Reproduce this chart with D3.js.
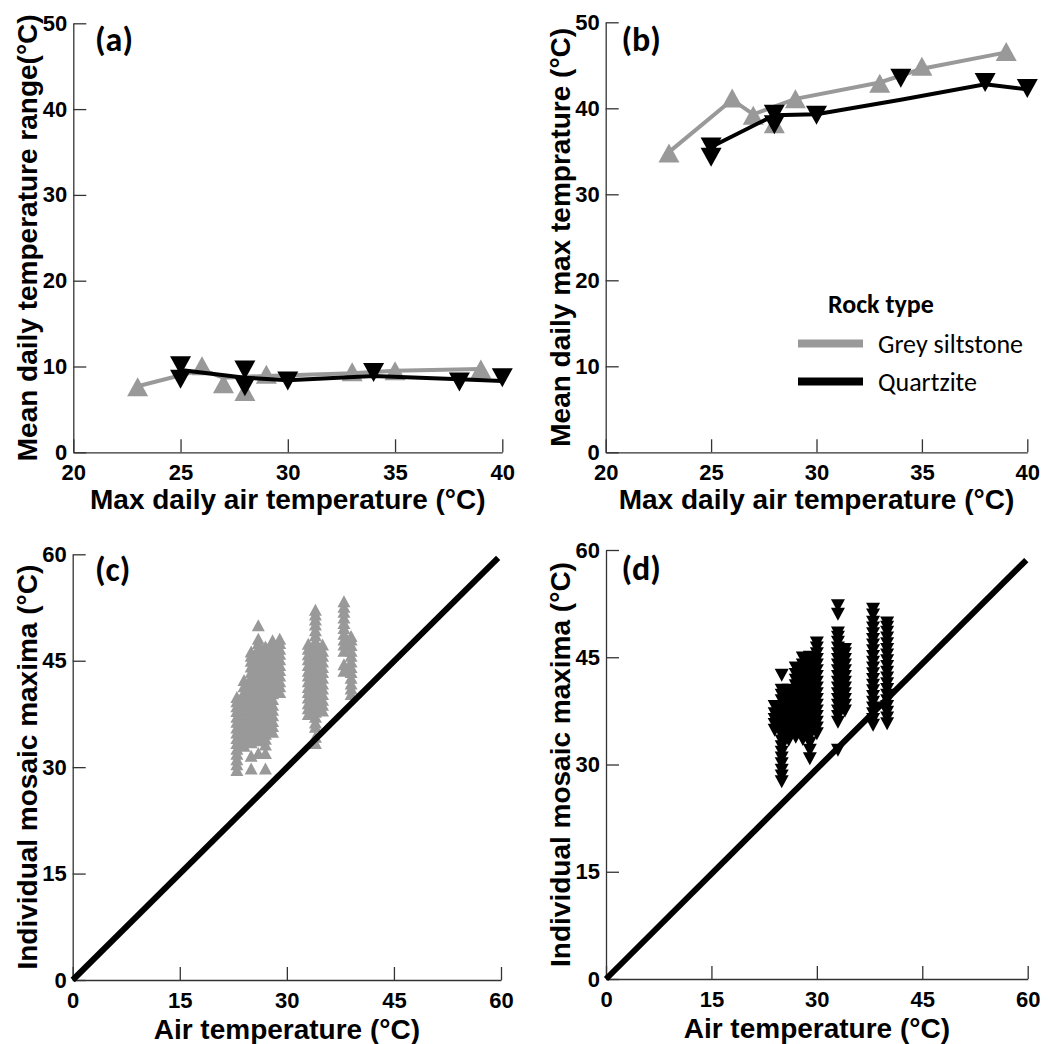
<!DOCTYPE html>
<html><head><meta charset="utf-8">
<script src="https://cdn.jsdelivr.net/npm/d3@7"></script>
<style>body{margin:0;background:#fff} svg{display:block}</style>
</head><body>
<svg id="chart" width="1051" height="1044"></svg>
<script>
// ---------------- DATA ----------------
// Panel (a): mean daily temperature range vs max daily air temperature
const greyRangeX = [23, 26, 27, 28, 29, 33, 35, 39];
const greyRangeY = [7.65, 10.1, 8.0, 7.1, 9.1, 9.4, 9.5, 9.7];
const greyRangeLineX = [23, 26, 27, 29, 33, 35, 39];
const greyRangeLineY = [7.7, 9.6, 8.7, 8.9, 9.2, 9.5, 9.7];
const quartzRangeX = [25, 25, 28, 28, 30, 34, 38, 40];
const quartzRangeY = [10.1, 8.5, 9.6, 7.65, 8.3, 9.3, 8.2, 8.7];
const quartzRangeLineX = [25, 28, 30, 34, 38, 40];
const quartzRangeLineY = [9.6, 8.7, 8.4, 8.9, 8.5, 8.3];

// Panel (b): mean daily max temperature vs max daily air temperature
const greyMaxX = [23, 26, 27, 28, 29, 33, 35, 39];
const greyMaxY = [34.8, 41.2, 39.2, 38.2, 41.1, 42.9, 44.9, 46.6];
const greyMaxLineX = [23, 26, 27, 29, 33, 35, 39];
const greyMaxLineY = [34.9, 41.0, 39.3, 41.1, 43.0, 44.6, 46.5];
const quartzMaxX = [25, 25, 28, 28, 30, 34, 38, 40];
const quartzMaxY = [35.5, 34.3, 39.3, 38.1, 39.2, 43.5, 43.0, 42.3];
const quartzMaxLineX = [25, 28, 30, 34, 38, 40];
const quartzMaxLineY = [35.5, 39.2, 39.3, 41.0, 42.8, 42.2];

// Panel (c): individual mosaic maxima, grey siltstone (per air temperature)
const mosaicGreyX = [23, 24, 25, 26, 27, 28, 29, 33, 34, 35, 38, 39];
const mosaicGreyY = [
  [29.6, 30.4, 31.1, 31.9, 32.6, 33.4, 34.1, 34.9, 35.6, 36.4, 37.1, 37.9, 38.6, 39.3, 39.9],
  [33.0, 33.8, 34.5, 35.3, 36.0, 36.8, 37.6, 38.3, 39.1, 39.8, 40.6, 41.4, 42.3],
  [29.8, 31.6, 33.5, 34.2, 35.0, 35.8, 36.5, 37.3, 38.1, 38.8, 39.6, 40.4, 41.1, 41.9, 42.7, 43.4, 44.2, 45.0, 45.7, 46.3],
  [32.0, 33.8, 34.6, 35.3, 36.1, 36.9, 37.6, 38.4, 39.2, 39.9, 40.7, 41.5, 42.2, 43.0, 43.8, 44.5, 45.3, 46.1, 46.8, 47.5, 48.1, 50.0],
  [29.8, 32.0, 33.2, 34.0, 34.7, 35.5, 36.3, 37.0, 37.8, 38.6, 39.3, 40.1, 40.9, 41.6, 42.4, 43.2, 43.9, 44.7, 45.5, 46.2, 47.0],
  [35.0, 35.8, 36.5, 37.3, 38.1, 38.8, 39.6, 40.4, 41.1, 41.9, 42.7, 43.4, 44.2, 45.0, 45.7, 46.5, 47.2, 47.9],
  [40.6, 41.4, 42.1, 42.9, 43.7, 44.4, 45.2, 46.0, 46.7, 47.5, 48.1],
  [37.5, 38.3, 39.0, 39.8, 40.6, 41.3, 42.1, 42.9, 43.6, 44.4, 45.2, 45.9, 46.7, 47.4],
  [33.4, 34.3, 35.7, 36.3, 37.1, 37.8, 38.6, 39.4, 40.1, 40.9, 41.7, 42.4, 43.2, 44.0, 44.7, 45.5, 46.3, 47.0, 47.8, 48.6, 49.3, 50.1, 50.8, 51.5, 52.2],
  [38.0, 38.8, 39.5, 40.3, 41.1, 41.8, 42.6, 43.4, 44.1, 44.9, 45.7, 46.4, 47.3],
  [43.6, 44.5, 46.4, 47.3, 48.0, 48.8, 49.6, 50.3, 51.1, 51.9, 52.6, 53.4],
  [40.3, 41.1, 41.8, 42.6, 43.4, 44.1, 44.9, 45.7, 46.4, 47.2, 48.0, 48.5]
];

// Panel (d): individual mosaic maxima, quartzite (per air temperature)
const mosaicQuartzX = [24, 25, 26, 27, 28, 29, 30, 33, 34, 38, 40];
const mosaicQuartzY = [
  [34.8, 35.6, 36.3, 37.1, 38.1],
  [27.6, 28.4, 29.2, 30.1, 30.9, 31.7, 32.5, 33.3, 34.1, 34.9, 35.7, 36.5, 37.3, 38.1, 38.9, 39.7, 40.4, 42.5],
  [33.4, 34.2, 35.0, 35.8, 36.6, 37.4, 38.2, 39.0, 39.8, 40.4],
  [33.8, 34.6, 35.4, 36.2, 37.0, 37.8, 38.6, 39.4, 40.2, 41.0, 41.8, 42.6, 43.5],
  [33.5, 34.3, 35.1, 35.9, 36.7, 37.5, 38.3, 39.1, 39.9, 40.7, 41.5, 42.3, 43.1, 43.9, 44.9],
  [30.8, 32.0, 33.0, 34.0, 34.8, 35.6, 36.4, 37.2, 38.0, 38.8, 39.6, 40.4, 41.2, 42.0, 42.8, 43.6, 44.4, 45.0],
  [34.3, 35.1, 35.9, 36.7, 37.5, 38.3, 39.1, 39.9, 40.7, 41.5, 42.3, 43.1, 43.9, 44.7, 45.5, 46.3, 47.0],
  [32.0, 35.9, 36.7, 37.5, 38.3, 39.1, 39.9, 40.7, 41.5, 42.3, 43.1, 43.9, 44.7, 45.5, 46.3, 47.1, 47.8, 48.4, 51.0, 52.2],
  [37.5, 38.3, 39.1, 39.9, 40.7, 41.5, 42.3, 43.1, 43.9, 44.7, 45.5, 46.1],
  [35.5, 36.3, 37.1, 37.9, 38.7, 39.5, 40.3, 41.1, 41.9, 42.7, 43.5, 44.3, 45.1, 45.9, 46.7, 47.5, 48.3, 49.1, 49.9, 50.9, 51.7],
  [35.7, 36.5, 37.3, 38.1, 38.9, 39.7, 40.5, 41.3, 42.1, 42.9, 43.7, 44.5, 45.3, 46.1, 46.9, 47.7, 48.5, 49.2, 49.8]
];

// 1:1 reference lines
const oneToOneC = [[0, 0], [59.6, 59.5]];
const oneToOneD = [[0, 0], [59.8, 58.6]];

// Ticks and labels
const ticksTopX = [20, 25, 30, 35, 40];
const ticksTopY = [0, 10, 20, 30, 40, 50];
const ticksBottom = [0, 15, 30, 45, 60];
const legendTitle = "Rock type";
const seriesNames = ["Grey siltstone", "Quartzite"];
const seriesColors = ["#999999", "#000000"];

// ---------------- DRAWING ----------------
const svg = d3.select("#chart");
const AX_FONT = "'Liberation Sans', Arial, sans-serif";
const LBL_FONT = "Carlito, Calibri, Lato, sans-serif";

function tri(cx, cy, w, h, up) {
  const hw = w / 2, hh = h / 2;
  return up
    ? `M${cx},${cy - hh}L${cx + hw},${cy + hh}L${cx - hw},${cy + hh}Z`
    : `M${cx},${cy + hh}L${cx + hw},${cy - hh}L${cx - hw},${cy - hh}Z`;
}

function makeAxes(g, x, y, xt, yt, cfg) {
  const xa = g.append("g").attr("transform", `translate(0,${y.range()[0]})`)
    .call(d3.axisBottom(x).tickValues(xt).tickSizeInner(-13).tickSizeOuter(0).tickPadding(12));
  const ya = g.append("g").attr("transform", `translate(${x.range()[0]},0)`)
    .call(d3.axisLeft(y).tickValues(yt).tickSizeInner(-13).tickSizeOuter(0).tickPadding(6));
  [xa, ya].forEach(a => {
    a.selectAll("path,line").attr("stroke", "#333").attr("stroke-width", 1.3);
    a.selectAll("text").attr("fill", "#000").style("font-family", AX_FONT)
      .style("font-weight", "bold").style("font-size", "22px");
  });
  const xm = (x.range()[0] + x.range()[1]) / 2;
  const ym = (y.range()[0] + y.range()[1]) / 2;
  g.append("text").attr("x", xm).attr("y", cfg.xTitleY).attr("text-anchor", "middle")
    .style("font-family", AX_FONT).style("font-weight", "bold").style("font-size", "28px")
    .text(cfg.xTitle);
  g.append("text").attr("transform", `translate(${cfg.yTitleX},${ym}) rotate(-90)`)
    .attr("text-anchor", "middle")
    .style("font-family", AX_FONT).style("font-weight", "bold").style("font-size", "28px")
    .text(cfg.yTitle);
  g.append("text").attr("x", cfg.labelX).attr("y", cfg.labelY)
    .style("font-family", LBL_FONT).style("font-weight", "bold").style("font-size", "34px")
    .text(cfg.label);
}

function linePanel(cfg) {
  const g = svg.append("g");
  const x = d3.scaleLinear().domain([20, 40]).range(cfg.xr);
  const y = d3.scaleLinear().domain([0, 50]).range(cfg.yr);
  makeAxes(g, x, y, ticksTopX, ticksTopY, cfg);
  const line = d3.line().x(d => x(d[0])).y(d => y(d[1]));
  const drawSeries = (lx, ly, px, py, color, up) => {
    g.append("path").datum(lx.map((v, i) => [v, ly[i]])).attr("d", line)
      .attr("fill", "none").attr("stroke", color).attr("stroke-width", 4);
    g.append("g").selectAll("path").data(px.map((v, i) => [v, py[i]])).join("path")
      .attr("d", d => tri(x(d[0]), y(d[1]), 21, 19, up)).attr("fill", color);
  };
  drawSeries(cfg.gLX, cfg.gLY, cfg.gX, cfg.gY, seriesColors[0], true);
  drawSeries(cfg.qLX, cfg.qLY, cfg.qX, cfg.qY, seriesColors[1], false);
  return { g, x, y };
}

function mosaicPanel(cfg) {
  const g = svg.append("g");
  const x = d3.scaleLinear().domain([0, 60]).range(cfg.xr);
  const y = d3.scaleLinear().domain([0, 60]).range(cfg.yr);
  makeAxes(g, x, y, ticksBottom, ticksBottom, cfg);
  const pts = cfg.cx.flatMap((xv, i) => cfg.cy[i].map(yv => [xv, yv]));
  g.append("g").selectAll("path").data(pts).join("path")
    .attr("d", d => tri(x(d[0]), y(d[1]), cfg.mw, cfg.mh, cfg.up)).attr("fill", cfg.color);
  g.append("path").datum(cfg.ref)
    .attr("d", d3.line().x(d => x(d[0])).y(d => y(d[1])))
    .attr("fill", "none").attr("stroke", "#000").attr("stroke-width", 6);
}

linePanel({
  xr: [73.3, 502.3], yr: [452.3, 23.3],
  gX: greyRangeX, gY: greyRangeY, gLX: greyRangeLineX, gLY: greyRangeLineY,
  qX: quartzRangeX, qY: quartzRangeY, qLX: quartzRangeLineX, qLY: quartzRangeLineY,
  xTitle: "Max daily air temperature (°C)", xTitleY: 509,
  yTitle: "Mean daily temperature range(°C)", yTitleX: 36.5,
  label: "(a)", labelX: 95, labelY: 51
});

linePanel({
  xr: [605.7, 1027.3], yr: [452.3, 22.3],
  gX: greyMaxX, gY: greyMaxY, gLX: greyMaxLineX, gLY: greyMaxLineY,
  qX: quartzMaxX, qY: quartzMaxY, qLX: quartzMaxLineX, qLY: quartzMaxLineY,
  xTitle: "Max daily air temperature (°C)", xTitleY: 509,
  yTitle: "Mean daily max temprature (°C)", yTitleX: 570,
  label: "(b)", labelX: 621.5, labelY: 51
});

// legend in panel (b)
const leg = svg.append("g");
leg.append("text").attr("x", 828).attr("y", 313).text(legendTitle)
  .style("font-family", LBL_FONT).style("font-weight", "bold").style("font-size", "26px");
seriesNames.forEach((name, i) => {
  const ly = 343.5 + i * 38;
  leg.append("line").attr("x1", 798).attr("x2", 863).attr("y1", ly).attr("y2", ly)
    .attr("stroke", seriesColors[i]).attr("stroke-width", 8);
  leg.append("text").attr("x", 878).attr("y", ly + 9.5).text(name)
    .style("font-family", LBL_FONT).style("font-size", "26px");
});

mosaicPanel({
  xr: [72.7, 501], yr: [980, 554.3],
  cx: mosaicGreyX, cy: mosaicGreyY, ref: oneToOneC, mw: 13, mh: 12, up: true, color: seriesColors[0],
  xTitle: "Air temperature (°C)", xTitleY: 1039,
  yTitle: "Individual mosaic maxima (°C)", yTitleX: 36.5,
  label: "(c)", labelX: 95, labelY: 581
});

mosaicPanel({
  xr: [606, 1027.7], yr: [979, 550],
  cx: mosaicQuartzX, cy: mosaicQuartzY, ref: oneToOneD, mw: 14, mh: 13, up: false, color: seriesColors[1],
  xTitle: "Air temperature (°C)", xTitleY: 1038,
  yTitle: "Individual mosaic maxima (°C)", yTitleX: 570,
  label: "(d)", labelX: 621.5, labelY: 580
});
</script>
</body></html>
